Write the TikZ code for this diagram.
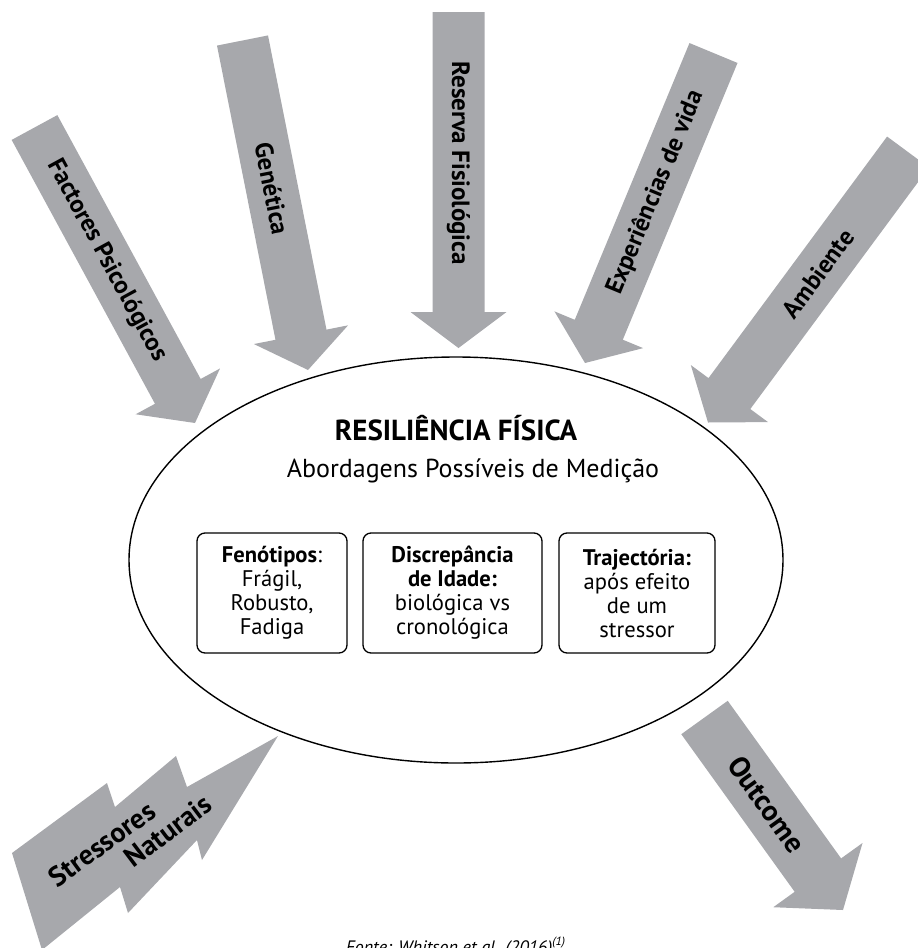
\documentclass[tikz,border=0pt]{standalone}
\usepackage{fontspec}
\setmainfont{PT Sans}
\usepackage{tikz}
\usetikzlibrary{calc,shapes.geometric}

\definecolor{arrowgray}{RGB}{167,168,172}

% fat block arrow: tail, tip, shaft half width, head half width, head length
\newcommand{\fatarrow}[5]{%
  \coordinate (#2base) at ($(#2)!#5!(#1)$);
  \fill[arrowgray] ($(#1)!#3!90:(#2)$) -- ($(#2base)!#3!90:(#2)$)
    -- ($(#2base)!#4!90:(#2)$) -- (#2) -- ($(#2base)!#4!-90:(#2)$)
    -- ($(#2base)!#3!-90:(#2)$) -- ($(#1)!#3!-90:(#2)$) -- cycle;
}

\begin{document}
\begin{tikzpicture}[x=0.5pt, y=-0.5pt,
    arrowlabel/.style={pos=.45, sloped, font=\bfseries\fontsize{12.5}{14}\selectfont},
    measurebox/.style={draw, rounded corners=4pt, line width=.65pt, align=center,
        minimum height=60pt, font=\fontsize{11.3}{12}\selectfont}]

    % Fix the page size
    \useasboundingbox (0,0) rectangle (917,948);

    % Define arrow ends (tail, tip)
    \coordinate (factT) at (34.5,127.5);
    \coordinate (factP) at (195,423);
    \coordinate (genT) at (242.5,40.5);
    \coordinate (genP) at (308,370);
    \coordinate (resT) at (458.5,12);
    \coordinate (resP) at (458.5,348);
    \coordinate (expT) at (713.5,53);
    \coordinate (expP) at (585,363);
    \coordinate (ambT) at (908,152);
    \coordinate (ambP) at (708,422.5);
    \coordinate (outT) at (704.5,717.5);
    \coordinate (outP) at (843,910);

    % Draw the incoming arrows
    \fatarrow{factT}{factP}{13pt}{24pt}{18pt}
    \fatarrow{genT}{genP}{13pt}{24pt}{18pt}
    \fatarrow{resT}{resP}{13pt}{24pt}{18pt}
    \fatarrow{expT}{expP}{13pt}{24pt}{18pt}
    \fatarrow{ambT}{ambP}{13pt}{24pt}{18pt}

    % Outgoing arrow
    \fatarrow{outT}{outP}{14.3pt}{27.5pt}{21.5pt}

    % Labels on the arrows
    \path (factT) -- (factP) node[arrowlabel] (factlabel) {Factores Psicológicos};
    \path (genT) -- (genP) node[arrowlabel] (genlabel) {Genética};
    \path (resT) -- (resP) node[arrowlabel] (reslabel) {Reserva Fisiológica};
    \path (expT) -- (expP) node[arrowlabel] (explabel) {Experiências de vida};
    \path (ambT) -- (ambP) node[arrowlabel] (amblabel) {Ambiente};
    \path (outT) -- (outP) node[arrowlabel, font=\bfseries\fontsize{14.5}{16}\selectfont] (outlabel) {Outcome};

    % Zigzag arrow for the stressors
    \fill[arrowgray] (278,736) -- (187,787) -- (176,756) -- (115,807) -- (107,783)
        -- (12,853) -- (42,950) -- (120,887) -- (128,913) -- (197,840) -- (202,860) -- cycle;
    \node[font=\bfseries\fontsize{14}{16}\selectfont, rotate=36] (stressA) at (102,844) {Stressores};
    \node[font=\bfseries\fontsize{14}{16}\selectfont, rotate=37] (stressB) at (168,831) {Naturais};

    % Central ellipse
    \node[draw, ellipse, line width=.7pt, minimum width=327pt, minimum height=203pt] (resil) at (456,560) {};
    \node[font=\bfseries\fontsize{14.5}{16}\selectfont] (title) at (456,428) {RESILIÊNCIA FÍSICA};
    \node[font=\fontsize{13}{15}\selectfont] (subtitle) at (473,471) {Abordagens Possíveis de Medição};

    % Measurement boxes
    \node[measurebox, minimum width=75pt] (fenotipos) at (272,593)
        {\textbf{Fenótipos}:\\Frágil,\\Robusto,\\Fadiga};
    \node[measurebox, minimum width=89.5pt] (discrep) at (452.5,593)
        {\textbf{Discrepância}\\\textbf{de Idade:}\\biológica vs\\cronológica};
    \node[measurebox, minimum width=78pt] (traject) at (637,593)
        {\textbf{Trajectória:}\\após efeito\\de um\\stressor};

    % Source line
    \node[font=\itshape\fontsize{9}{11}\selectfont, anchor=base] (fonte) at (456,953)
        {Fonte: Whitson et al. (2016)\textsuperscript{(1)}};
\end{tikzpicture}
\end{document}
